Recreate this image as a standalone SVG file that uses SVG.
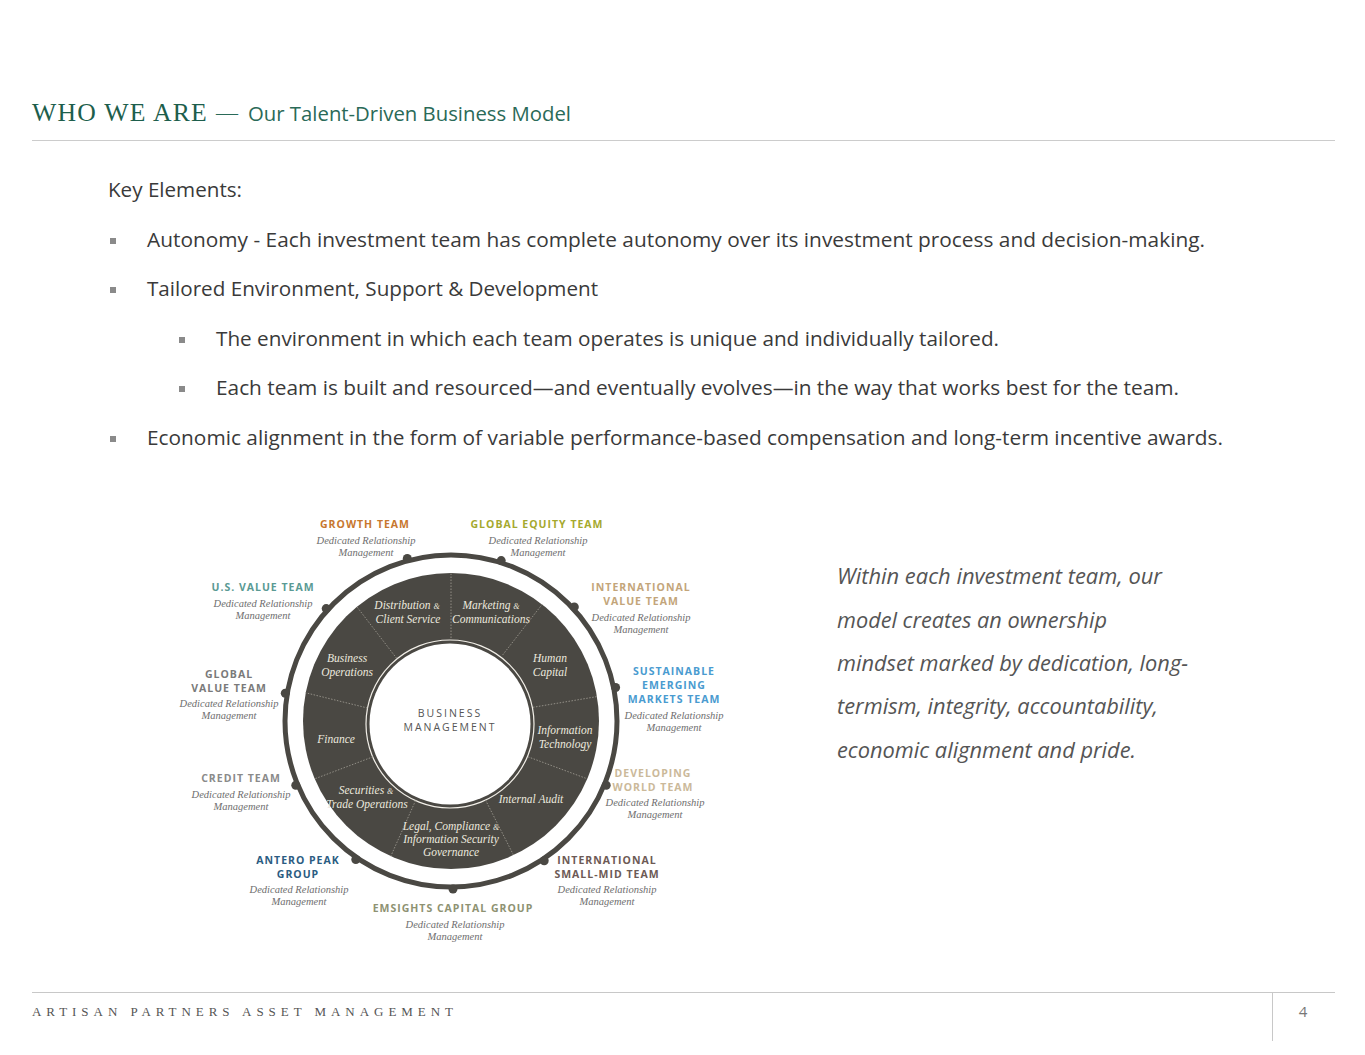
<svg xmlns="http://www.w3.org/2000/svg" width="1365" height="1055" viewBox="0 0 1365 1055">
<defs>
<style>
.body{font-family:"Open Sans","Noto Sans","Liberation Sans",sans-serif;font-size:20px;fill:#3a3a3a}
.bul{fill:#8a8a8a}
.quote{font-family:"Open Sans","Noto Sans","Liberation Sans",sans-serif;font-style:italic;font-size:21px;fill:#555555}
.seg{font-family:"Liberation Serif","DejaVu Serif",serif;font-style:italic;font-size:11.5px;fill:#ece8df;text-anchor:middle}
.team{font-family:"Open Sans","Noto Sans","Liberation Sans",sans-serif;font-weight:bold;font-size:10.5px;letter-spacing:1px;text-anchor:middle}
.sub{font-family:"Liberation Serif","DejaVu Serif",serif;font-style:italic;font-size:10.5px;fill:#6e6e6e;text-anchor:middle}
.div{stroke:#9a968d;stroke-width:0.9;stroke-dasharray:1.5 1.5}
.dot{fill:#4a4843}
</style>
</defs>
<rect width="1365" height="1055" fill="#ffffff"/>

<!-- Header -->
<g id="header">
<text x="32" y="121" font-family="Liberation Serif,serif" font-size="25" fill="#1d5e4c" letter-spacing="1.2" textLength="176" lengthAdjust="spacingAndGlyphs">WHO WE ARE</text>
<text x="216" y="120" font-family="Liberation Serif,serif" font-size="22" fill="#2a6a58">—</text>
<text x="248" y="121" font-family="Open Sans,Noto Sans,sans-serif" font-size="20" fill="#2a6a58" textLength="323" lengthAdjust="spacingAndGlyphs">Our Talent-Driven Business Model</text>
<line x1="32" y1="140.5" x2="1335" y2="140.5" stroke="#cccccc" stroke-width="1"/>
</g>

<!-- Bullets -->
<g id="key-elements">
<text class="body" x="108" y="197" textLength="134" lengthAdjust="spacingAndGlyphs">Key Elements:</text>
<rect class="bul" x="110" y="238" width="6" height="6"/>
<text class="body" x="147" y="247" textLength="1058" lengthAdjust="spacingAndGlyphs">Autonomy - Each investment team has complete autonomy over its investment process and decision-making.</text>
<rect class="bul" x="110" y="287" width="6" height="6"/>
<text class="body" x="147" y="296" textLength="451" lengthAdjust="spacingAndGlyphs">Tailored Environment, Support &amp; Development</text>
<rect class="bul" x="179" y="337" width="6" height="6"/>
<text class="body" x="216" y="346" textLength="783" lengthAdjust="spacingAndGlyphs">The environment in which each team operates is unique and individually tailored.</text>
<rect class="bul" x="179" y="386" width="6" height="6"/>
<text class="body" x="216" y="395" textLength="963" lengthAdjust="spacingAndGlyphs">Each team is built and resourced—and eventually evolves—in the way that works best for the team.</text>
<rect class="bul" x="110" y="436" width="6" height="6"/>
<text class="body" x="147" y="445" textLength="1076" lengthAdjust="spacingAndGlyphs">Economic alignment in the form of variable performance-based compensation and long-term incentive awards.</text>
</g>

<!-- Wheel -->
<g id="wheel">
<circle cx="451" cy="721" r="166" fill="none" stroke="#4a4843" stroke-width="5"/>
<circle cx="451" cy="721" r="148" fill="#4a4843"/>
<circle cx="450" cy="724" r="84" fill="none" stroke="#f2efe8" stroke-width="1.2"/>
<circle cx="450" cy="724" r="80.5" fill="#ffffff"/>
</g>

<g id="connectors">
<line class="div" x1="451" y1="638" x2="451" y2="573"/>
<line class="div" x1="502.7" y1="654.9" x2="542.1" y2="604.4"/>
<line class="div" x1="533" y1="707.3" x2="597" y2="696.6"/>
<line class="div" x1="528" y1="756.8" x2="587.2" y2="778.8"/>
<line class="div" x1="485.5" y1="800" x2="513.5" y2="855.1"/>
<line class="div" x1="415.6" y1="800.5" x2="390.8" y2="856.2"/>
<line class="div" x1="373" y1="756.8" x2="314.8" y2="778.8"/>
<line class="div" x1="367.5" y1="708" x2="305.7" y2="692.8"/>
<line class="div" x1="396.6" y1="658.3" x2="356.9" y2="606.8"/>
<circle class="dot" cx="407.3" cy="558.5" r="4.5"/>
<circle class="dot" cx="501.2" cy="560.6" r="4.5"/>
<circle class="dot" cx="574.3" cy="606.9" r="4.5"/>
<circle class="dot" cx="615.6" cy="687.5" r="4.5"/>
<circle class="dot" cx="606.2" cy="785.3" r="4.5"/>
<circle class="dot" cx="544.2" cy="860.8" r="4.5"/>
<circle class="dot" cx="453" cy="889" r="4.5"/>
<circle class="dot" cx="355.8" cy="859.5" r="4.5"/>
<circle class="dot" cx="295.8" cy="785.3" r="4.5"/>
<circle class="dot" cx="285.3" cy="693.3" r="4.5"/>
<circle class="dot" cx="326.2" cy="608.6" r="4.5"/>
</g>

<g id="center">
<text x="450" y="717" font-family="Open Sans,Noto Sans,sans-serif" font-size="10.5" fill="#555555" letter-spacing="2" text-anchor="middle">BUSINESS</text>
<text x="450" y="731" font-family="Open Sans,Noto Sans,sans-serif" font-size="10.5" fill="#555555" letter-spacing="2" text-anchor="middle">MANAGEMENT</text>
</g>

<g id="seg-distribution"><text class="seg" x="407" y="609">Distribution <tspan font-size="8">&amp;</tspan></text><text class="seg" x="408" y="623">Client Service</text></g>
<g id="seg-marketing"><text class="seg" x="491" y="609">Marketing <tspan font-size="8">&amp;</tspan></text><text class="seg" x="491" y="623">Communications</text></g>
<g id="seg-human"><text class="seg" x="550" y="662">Human</text><text class="seg" x="550" y="676">Capital</text></g>
<g id="seg-busops"><text class="seg" x="347" y="662">Business</text><text class="seg" x="347" y="676">Operations</text></g>
<g id="seg-it"><text class="seg" x="565" y="734">Information</text><text class="seg" x="565" y="748">Technology</text></g>
<g id="seg-finance"><text class="seg" x="336" y="743">Finance</text></g>
<g id="seg-audit"><text class="seg" x="531" y="803">Internal Audit</text></g>
<g id="seg-securities"><text class="seg" x="366" y="794">Securities <tspan font-size="8">&amp;</tspan></text><text class="seg" x="367" y="808">Trade Operations</text></g>
<g id="seg-legal"><text class="seg" x="451" y="830">Legal, Compliance <tspan font-size="8">&amp;</tspan></text><text class="seg" x="451" y="843">Information Security</text><text class="seg" x="451" y="856">Governance</text></g>

<!-- Teams -->
<g id="team-growth"><text class="team" x="365" y="528" fill="#c7772e">GROWTH TEAM</text><text class="sub" x="366" y="544">Dedicated Relationship</text><text class="sub" x="366" y="556">Management</text></g>
<g id="team-global-equity"><text class="team" x="537" y="528" fill="#a5a92e">GLOBAL EQUITY TEAM</text><text class="sub" x="538" y="544">Dedicated Relationship</text><text class="sub" x="538" y="556">Management</text></g>
<g id="team-us-value"><text class="team" x="263" y="591" fill="#5a9a94">U.S. VALUE TEAM</text><text class="sub" x="263" y="607">Dedicated Relationship</text><text class="sub" x="263" y="619">Management</text></g>
<g id="team-intl-value"><text class="team" x="641" y="591" fill="#c3a57a">INTERNATIONAL</text><text class="team" x="641" y="605" fill="#c3a57a">VALUE TEAM</text><text class="sub" x="641" y="621">Dedicated Relationship</text><text class="sub" x="641" y="633">Management</text></g>
<g id="team-global-value"><text class="team" x="229" y="678" fill="#7a7a7a">GLOBAL</text><text class="team" x="229" y="692" fill="#7a7a7a">VALUE TEAM</text><text class="sub" x="229" y="707">Dedicated Relationship</text><text class="sub" x="229" y="719">Management</text></g>
<g id="team-sem"><text class="team" x="674" y="675" fill="#4a9bd0">SUSTAINABLE</text><text class="team" x="674" y="689" fill="#4a9bd0">EMERGING</text><text class="team" x="674" y="703" fill="#4a9bd0">MARKETS TEAM</text><text class="sub" x="674" y="719">Dedicated Relationship</text><text class="sub" x="674" y="731">Management</text></g>
<g id="team-credit"><text class="team" x="241" y="782" fill="#8a8a8a">CREDIT TEAM</text><text class="sub" x="241" y="798">Dedicated Relationship</text><text class="sub" x="241" y="810">Management</text></g>
<g id="team-developing"><text class="team" x="653" y="777" fill="#cbb99a">DEVELOPING</text><text class="team" x="653" y="791" fill="#cbb99a">WORLD TEAM</text><text class="sub" x="655" y="806">Dedicated Relationship</text><text class="sub" x="655" y="818">Management</text></g>
<g id="team-antero"><text class="team" x="298" y="864" fill="#2b5c82">ANTERO PEAK</text><text class="team" x="298" y="878" fill="#2b5c82">GROUP</text><text class="sub" x="299" y="893">Dedicated Relationship</text><text class="sub" x="299" y="905">Management</text></g>
<g id="team-intl-smid"><text class="team" x="607" y="864" fill="#6d5a55">INTERNATIONAL</text><text class="team" x="607" y="878" fill="#6d5a55">SMALL-MID TEAM</text><text class="sub" x="607" y="893">Dedicated Relationship</text><text class="sub" x="607" y="905">Management</text></g>
<g id="team-emsights"><text class="team" x="453" y="912" fill="#8e9272">EMSIGHTS CAPITAL GROUP</text><text class="sub" x="455" y="928">Dedicated Relationship</text><text class="sub" x="455" y="940">Management</text></g>

<!-- Quote -->
<g id="quote">
<text class="quote" x="837" y="584" textLength="325" lengthAdjust="spacingAndGlyphs">Within each investment team, our</text>
<text class="quote" x="837" y="628" textLength="270" lengthAdjust="spacingAndGlyphs">model creates an ownership</text>
<text class="quote" x="837" y="671" textLength="351" lengthAdjust="spacingAndGlyphs">mindset marked by dedication, long-</text>
<text class="quote" x="837" y="714" textLength="321" lengthAdjust="spacingAndGlyphs">termism, integrity, accountability,</text>
<text class="quote" x="837" y="758" textLength="299" lengthAdjust="spacingAndGlyphs">economic alignment and pride.</text>
</g>

<!-- Footer -->
<g id="footer">
<line x1="32" y1="992.5" x2="1335" y2="992.5" stroke="#c8c8c8" stroke-width="1"/>
<line x1="1272.5" y1="993" x2="1272.5" y2="1041" stroke="#c8c8c8" stroke-width="1"/>
<text x="32" y="1016" font-family="Liberation Serif,serif" font-size="13" fill="#555555" textLength="421" lengthAdjust="spacing">ARTISAN PARTNERS ASSET MANAGEMENT</text>
<text x="1303" y="1017" font-family="Open Sans,Noto Sans,sans-serif" font-size="15" fill="#777777" text-anchor="middle">4</text>
</g>
</svg>
